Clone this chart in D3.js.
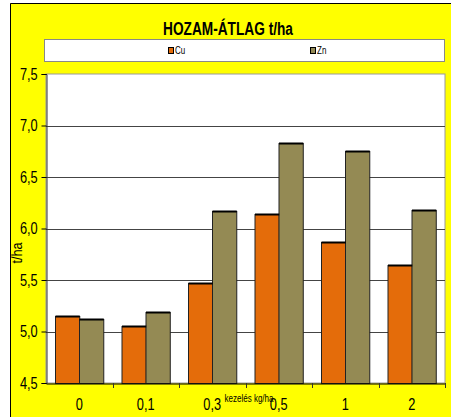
<!DOCTYPE html>
<html>
<head>
<meta charset="utf-8">
<script src="https://cdn.jsdelivr.net/npm/d3@7"></script>
<style>
  body { margin: 0; background: #fff; }
  text { font-family: "Liberation Sans", Arial, sans-serif; }
</style>
</head>
<body>
<div id="chart"></div>
<script>
// chart data
const categories = ["0", "0,1", "0,3", "0,5", "1", "2"];
const seriesNames = ["Cu", "Zn"];
const cuValues = [5.15, 5.05, 5.47, 6.14, 5.87, 5.65];
const znValues = [5.12, 5.19, 6.17, 6.83, 6.75, 6.18];
const yTicks = [4.5, 5.0, 5.5, 6.0, 6.5, 7.0, 7.5];
const colors = ["#E46C0A", "#948A54"];

const width = 451, height = 417,
    margin = ({ top: 74, right: 6, bottom: 34, left: 46 });

const narrow = 0.8;   // no Arial Narrow installed, so squeeze text horizontally

const svg = d3.select("#chart")
    .append("svg")
    .attr("width", width)
    .attr("height", height);

// yellow chart background with a black edge on top/left
svg.append("rect")
    .attr("x", 10).attr("y", 3)
    .attr("width", width - 10).attr("height", height - 3)
    .attr("fill", "#FFFF00");
svg.append("path")
    .attr("d", `M10.5,${height}V3.5H${width}`)
    .attr("fill", "none").attr("stroke", "#000");

svg.append("text")
    .attr("transform", "translate(228,35) scale(0.72,1)")
    .attr("text-anchor", "middle")
    .attr("font-size", 19).attr("font-weight", "bold")
    .text("HOZAM-ÁTLAG t/ha");

// legend box
svg.append("rect")
    .attr("x", 44.5).attr("y", 39.5)
    .attr("width", 400).attr("height", 22)
    .attr("fill", "#fff").attr("stroke", "#888");

const legendX = [168, 310];
seriesNames.forEach((s, i) => {
    svg.append("rect")
        .attr("x", legendX[i] + 0.5).attr("y", 47.5)
        .attr("width", 5).attr("height", 6)
        .attr("fill", colors[i]).attr("stroke", "#000");
    svg.append("text")
        .attr("transform", `translate(${legendX[i] + 7},54) scale(${narrow},1)`)
        .attr("font-size", 10)
        .text(s);
});

const x = d3.scaleBand()
    .domain(categories)
    .range([margin.left, width - margin.right]);

const xs = d3.scaleBand()
    .domain(seriesNames)
    .range([0, x.bandwidth()])
    .paddingInner(0)
    .paddingOuter(0.37);

const y = d3.scaleLinear()
    .domain([4.5, 7.5])
    .range([height - margin.bottom, margin.top]);

// plot area
svg.append("rect")
    .attr("x", margin.left).attr("y", margin.top)
    .attr("width", width - margin.right - margin.left)
    .attr("height", height - margin.bottom - margin.top)
    .attr("fill", "#fff").attr("stroke", "#999");

// gridlines
svg.append("g")
    .selectAll("line")
    .data(yTicks.slice(1, -1))
    .join("line")
    .attr("x1", margin.left).attr("x2", width - margin.right)
    .attr("y1", d => Math.round(y(d)) + 0.5).attr("y2", d => Math.round(y(d)) + 0.5)
    .attr("stroke", "#444");

// bars
const data = categories.map((c, i) => ({ cat: c, vals: [cuValues[i], znValues[i]] }));

const groups = svg.append("g")
    .selectAll("g")
    .data(data)
    .join("g")
    .attr("transform", d => `translate(${x(d.cat)},0)`);

groups.selectAll("rect")
    .data(d => d.vals.map((v, i) => ({ s: seriesNames[i], v: v, i: i })))
    .join("rect")
    .attr("x", d => Math.round(xs(d.s)) + 0.5)
    .attr("y", d => Math.round(y(d.v)) + 0.5)
    .attr("width", xs.bandwidth())
    .attr("height", d => y(4.5) - Math.round(y(d.v)))
    .attr("fill", d => colors[d.i])
    .attr("stroke", "#222");

// thicker black top edge on each bar
groups.selectAll("line")
    .data(d => d.vals.map((v, i) => ({ s: seriesNames[i], v: v })))
    .join("line")
    .attr("x1", d => Math.round(xs(d.s)) + 0.5)
    .attr("x2", d => Math.round(xs(d.s)) + 0.5 + xs.bandwidth())
    .attr("y1", d => Math.round(y(d.v)) + 0.5)
    .attr("y2", d => Math.round(y(d.v)) + 0.5)
    .attr("stroke", "#000").attr("stroke-width", 2);

// y axis
const yAxis = svg.append("g")
    .attr("transform", `translate(${margin.left + 0.5},0)`)
    .call(d3.axisLeft(y).tickValues(yTicks).tickSize(5).tickPadding(6)
        .tickFormat(d => d3.format(".1f")(d).replace(".", ",")));
yAxis.select(".domain").attr("stroke", "#333");
yAxis.selectAll("text").attr("font-size", 16).attr("fill", "#000")
    .attr("font-family", "Liberation Sans, Arial, sans-serif")
    .attr("transform", `scale(${narrow},1)`);

// x axis
const xAxis = svg.append("g")
    .attr("transform", `translate(0,${height - margin.bottom + 0.5})`)
    .call(d3.axisBottom(x).tickSize(0).tickPadding(15));
xAxis.select(".domain").attr("stroke", "#000");
xAxis.selectAll("text").attr("font-size", 16).attr("fill", "#000")
    .attr("font-family", "Liberation Sans, Arial, sans-serif")
    .attr("transform", `scale(${narrow},1)`);

// x tick marks at band edges
svg.append("g")
    .selectAll("line")
    .data(categories)
    .join("line")
    .attr("x1", d => Math.round(x(d) + x.bandwidth()) + 0.5)
    .attr("x2", d => Math.round(x(d) + x.bandwidth()) + 0.5)
    .attr("y1", y(4.5)).attr("y2", y(4.5) + 5)
    .attr("stroke", "#333");

svg.append("text")
    .attr("transform", `translate(249,402) scale(${narrow},1)`)
    .attr("text-anchor", "middle")
    .attr("font-size", 10)
    .text("kezelés kg/ha");

svg.append("text")
    .attr("transform", "translate(22,253) rotate(-90) scale(0.85,1)")
    .attr("text-anchor", "middle")
    .attr("font-size", 15)
    .text("t/ha");
</script>
</body>
</html>
